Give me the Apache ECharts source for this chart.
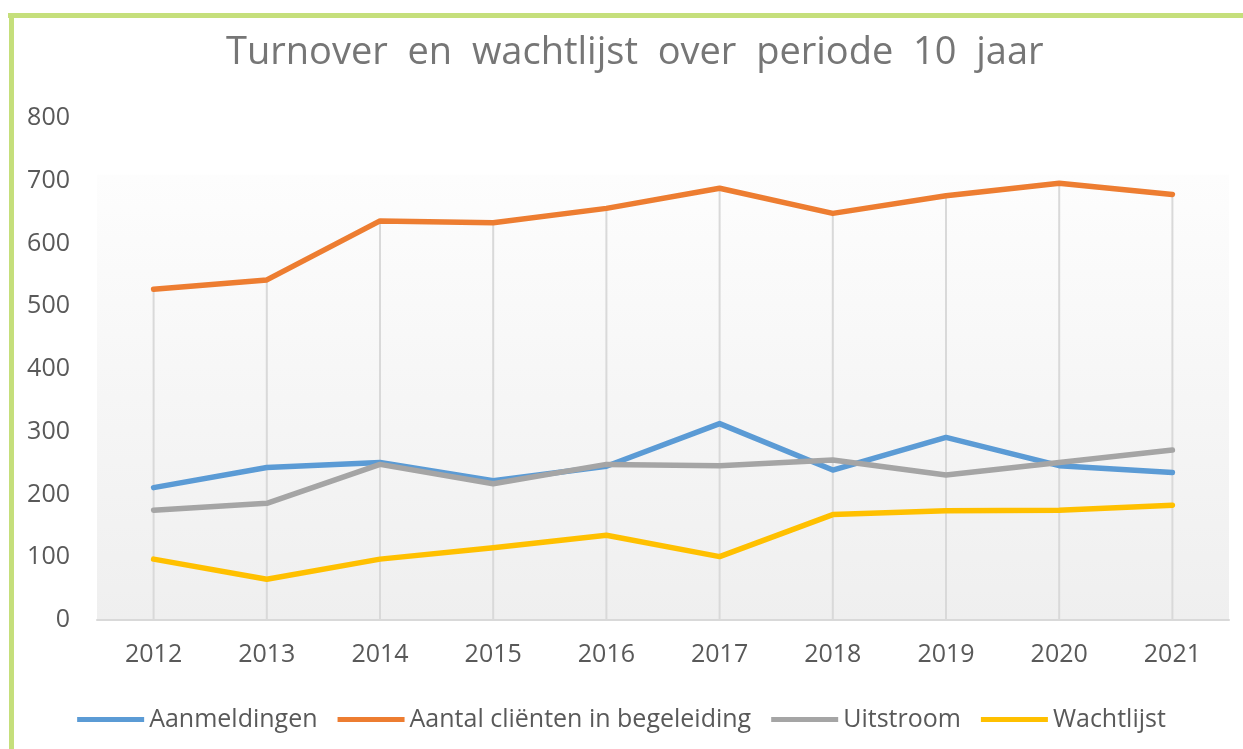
<!DOCTYPE html>
<html>
<head>
<meta charset="utf-8">
<script src="https://cdn.jsdelivr.net/npm/echarts@6/dist/echarts.min.js"></script>
<style>
  html, body { margin: 0; padding: 0; background: #fff; }
  #chart { width: 1243px; height: 749px; }
</style>
</head>
<body>
<div id="chart"></div>
<script>
// data
var years = ['2012', '2013', '2014', '2015', '2016', '2017', '2018', '2019', '2020', '2021'];
var aanmeldingen = [211, 243, 251, 222, 245, 313, 239, 291, 246, 235];
var clienten = [527, 542, 636, 633, 656, 688, 648, 676, 696, 678];
var uitstroom = [175, 186, 248, 217, 248, 246, 255, 231, 251, 271];
var wachtlijst = [97, 65, 97, 115, 135, 101, 168, 174, 175, 183];

// drop lines: from the highest series at each year down to the axis
var dropTop = [];
for (var i = 0; i < years.length; i++) {
    dropTop.push(Math.max(aanmeldingen[i], clienten[i], uitstroom[i], wachtlijst[i]));
}

var labelFont = 'Open Sans';
var myChart = echarts.init(document.getElementById('chart'));

function lineSeries(name, data, color) {
    return {
        name: name,
        type: 'line',
        data: data,
        showSymbol: false,
        symbol: 'none',
        z: 3,
        lineStyle: { color: color, width: 5.5, cap: 'round', join: 'round' },
        itemStyle: { color: color }
    };
}

var option = {
    animation: false,
    backgroundColor: '#fff',
    title: {
        text: 'Turnover  en  wachtlijst  over  periode  10  jaar',
        left: 221,
        top: 29,
        textStyle: { fontFamily: labelFont, fontSize: 38, fontWeight: 'normal', color: '#767676' }
    },
    graphic: [
        { type: 'rect', shape: { x: 8, y: 13, width: 1235, height: 5 }, style: { fill: '#c5df7b' } },
        { type: 'rect', shape: { x: 9, y: 13, width: 5, height: 736 }, style: { fill: '#c5df7b' } }
    ],
    legend: {
        bottom: 12,
        left: 'center',
        data: ['Aanmeldingen', 'Aantal cliënten in begeleiding', 'Uitstroom', 'Wachtlijst'],
        icon: 'rect',
        itemWidth: 67,
        itemHeight: 5,
        itemGap: 20,
        textStyle: { fontFamily: labelFont, fontSize: 25, color: '#595959' }
    },
    grid: {
        left: 97,
        right: 14,
        top: 118,
        bottom: 129,
        show: true,
        borderWidth: 0,
        backgroundColor: {
            type: 'linear', x: 0, y: 0, x2: 0, y2: 1,
            colorStops: [
                { offset: 0, color: '#ffffff' },
                { offset: 0.112, color: '#ffffff' },
                { offset: 0.114, color: '#fdfdfd' },
                { offset: 1, color: '#efefef' }
            ]
        }
    },
    xAxis: {
        type: 'category',
        data: years,
        boundaryGap: true,
        axisLine: { lineStyle: { color: '#d9d9d9', width: 2 } },
        axisTick: { show: false },
        axisLabel: { fontFamily: labelFont, fontSize: 25, color: '#595959', margin: 22 },
        splitLine: { show: false }
    },
    yAxis: {
        type: 'value',
        min: 0,
        max: 800,
        interval: 100,
        axisLine: { show: false },
        axisTick: { show: false },
        splitLine: { show: false },
        axisLabel: { fontFamily: labelFont, fontSize: 25, color: '#595959', margin: 27 }
    },
    series: [
        {
            name: 'drop',
            type: 'bar',
            data: dropTop,
            barWidth: 2,
            z: 1,
            itemStyle: { color: '#d9d9d9' },
            silent: true
        },
        lineSeries('Aanmeldingen', aanmeldingen, '#5b9bd5'),
        lineSeries('Aantal cliënten in begeleiding', clienten, '#ed7d31'),
        lineSeries('Uitstroom', uitstroom, '#a5a5a5'),
        lineSeries('Wachtlijst', wachtlijst, '#ffc000')
    ]
};

myChart.setOption(option);
</script>
</body>
</html>
